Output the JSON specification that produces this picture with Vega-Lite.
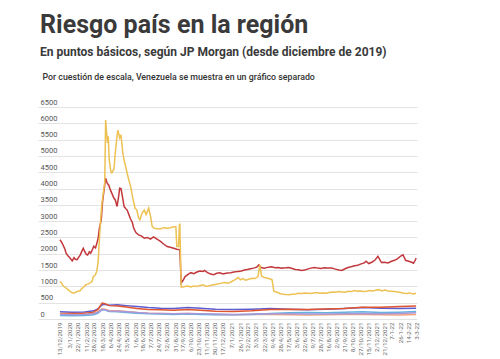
{
  "$schema": "https://vega.github.io/schema/vega-lite/v6.json",
  "width": 379,
  "height": 212,
  "autosize": {"type": "none"},
  "padding": {"left": 38, "top": 107, "right": 83, "bottom": 40},
  "background": "white",
  "title": {
    "text": "Riesgo país en la región",
    "subtitle": "En puntos básicos, según JP Morgan (desde diciembre de 2019)",
    "anchor": "start", "frame": "group", "dx": 2, "offset": 14,
    "font": "Roboto", "fontSize": 25, "fontWeight": "bold", "color": "#3a3a3a",
    "subtitleFont": "Roboto", "subtitleFontSize": 12, "subtitleFontWeight": "bold", "subtitleColor": "#3a3a3a", "subtitlePadding": 9
  },
  "config": {"font": "Roboto", "view": {"stroke": null}},
  "datasets": {
    "s": [
      {"d":"2019-12-13","p":"Argentina","v":2430},{"d":"2019-12-17","p":"Argentina","v":2350},{"d":"2019-12-20","p":"Argentina","v":2270},{"d":"2019-12-24","p":"Argentina","v":2150},{"d":"2019-12-27","p":"Argentina","v":2020},{"d":"2019-12-31","p":"Argentina","v":1940},{"d":"2020-01-03","p":"Argentina","v":1900},{"d":"2020-01-07","p":"Argentina","v":1830},{"d":"2020-01-10","p":"Argentina","v":1780},{"d":"2020-01-14","p":"Argentina","v":1880},{"d":"2020-01-17","p":"Argentina","v":1830},{"d":"2020-01-21","p":"Argentina","v":1820},{"d":"2020-01-24","p":"Argentina","v":1880},{"d":"2020-01-28","p":"Argentina","v":1960},{"d":"2020-01-31","p":"Argentina","v":2050},{"d":"2020-02-04","p":"Argentina","v":2170},{"d":"2020-02-07","p":"Argentina","v":2080},{"d":"2020-02-11","p":"Argentina","v":1980},{"d":"2020-02-14","p":"Argentina","v":1960},{"d":"2020-02-18","p":"Argentina","v":2060},{"d":"2020-02-21","p":"Argentina","v":2020},{"d":"2020-02-25","p":"Argentina","v":2130},{"d":"2020-02-28","p":"Argentina","v":2230},{"d":"2020-03-03","p":"Argentina","v":2180},{"d":"2020-03-06","p":"Argentina","v":2320},{"d":"2020-03-09","p":"Argentina","v":2480},{"d":"2020-03-12","p":"Argentina","v":2800},{"d":"2020-03-16","p":"Argentina","v":3040},{"d":"2020-03-19","p":"Argentina","v":3600},{"d":"2020-03-23","p":"Argentina","v":4010},{"d":"2020-03-26","p":"Argentina","v":4320},{"d":"2020-03-30","p":"Argentina","v":4150},{"d":"2020-04-02","p":"Argentina","v":4110},{"d":"2020-04-06","p":"Argentina","v":3950},{"d":"2020-04-09","p":"Argentina","v":3860},{"d":"2020-04-14","p":"Argentina","v":3700},{"d":"2020-04-17","p":"Argentina","v":3650},{"d":"2020-04-21","p":"Argentina","v":3450},{"d":"2020-04-24","p":"Argentina","v":3700},{"d":"2020-04-27","p":"Argentina","v":4010},{"d":"2020-04-30","p":"Argentina","v":4000},{"d":"2020-05-04","p":"Argentina","v":3700},{"d":"2020-05-07","p":"Argentina","v":3450},{"d":"2020-05-11","p":"Argentina","v":3380},{"d":"2020-05-14","p":"Argentina","v":3340},{"d":"2020-05-18","p":"Argentina","v":3200},{"d":"2020-05-21","p":"Argentina","v":3090},{"d":"2020-05-26","p":"Argentina","v":2950},{"d":"2020-05-29","p":"Argentina","v":2780},{"d":"2020-06-03","p":"Argentina","v":2650},{"d":"2020-06-09","p":"Argentina","v":2580},{"d":"2020-06-15","p":"Argentina","v":2550},{"d":"2020-06-22","p":"Argentina","v":2480},{"d":"2020-06-29","p":"Argentina","v":2500},{"d":"2020-07-06","p":"Argentina","v":2450},{"d":"2020-07-13","p":"Argentina","v":2520},{"d":"2020-07-20","p":"Argentina","v":2460},{"d":"2020-07-29","p":"Argentina","v":2380},{"d":"2020-08-05","p":"Argentina","v":2300},{"d":"2020-08-13","p":"Argentina","v":2220},{"d":"2020-08-20","p":"Argentina","v":2200},{"d":"2020-08-28","p":"Argentina","v":2170},{"d":"2020-09-04","p":"Argentina","v":2140},{"d":"2020-09-11","p":"Argentina","v":2120},{"d":"2020-09-14","p":"Argentina","v":1100},{"d":"2020-09-18","p":"Argentina","v":1180},{"d":"2020-09-23","p":"Argentina","v":1300},{"d":"2020-09-29","p":"Argentina","v":1360},{"d":"2020-10-06","p":"Argentina","v":1420},{"d":"2020-10-13","p":"Argentina","v":1390},{"d":"2020-10-20","p":"Argentina","v":1440},{"d":"2020-10-27","p":"Argentina","v":1470},{"d":"2020-11-03","p":"Argentina","v":1460},{"d":"2020-11-06","p":"Argentina","v":1490},{"d":"2020-11-13","p":"Argentina","v":1420},{"d":"2020-11-20","p":"Argentina","v":1380},{"d":"2020-11-27","p":"Argentina","v":1360},{"d":"2020-12-04","p":"Argentina","v":1400},{"d":"2020-12-11","p":"Argentina","v":1420},{"d":"2020-12-18","p":"Argentina","v":1380},{"d":"2020-12-28","p":"Argentina","v":1410},{"d":"2021-01-05","p":"Argentina","v":1420},{"d":"2021-01-12","p":"Argentina","v":1440},{"d":"2021-01-22","p":"Argentina","v":1460},{"d":"2021-01-29","p":"Argentina","v":1470},{"d":"2021-02-05","p":"Argentina","v":1500},{"d":"2021-02-12","p":"Argentina","v":1520},{"d":"2021-02-19","p":"Argentina","v":1540},{"d":"2021-02-26","p":"Argentina","v":1560},{"d":"2021-03-05","p":"Argentina","v":1590},{"d":"2021-03-10","p":"Argentina","v":1660},{"d":"2021-03-15","p":"Argentina","v":1580},{"d":"2021-03-22","p":"Argentina","v":1560},{"d":"2021-04-01","p":"Argentina","v":1590},{"d":"2021-04-08","p":"Argentina","v":1600},{"d":"2021-04-16","p":"Argentina","v":1570},{"d":"2021-04-23","p":"Argentina","v":1580},{"d":"2021-04-30","p":"Argentina","v":1560},{"d":"2021-05-10","p":"Argentina","v":1570},{"d":"2021-05-17","p":"Argentina","v":1580},{"d":"2021-05-25","p":"Argentina","v":1550},{"d":"2021-06-01","p":"Argentina","v":1520},{"d":"2021-06-08","p":"Argentina","v":1510},{"d":"2021-06-15","p":"Argentina","v":1490},{"d":"2021-06-22","p":"Argentina","v":1500},{"d":"2021-06-29","p":"Argentina","v":1530},{"d":"2021-07-06","p":"Argentina","v":1560},{"d":"2021-07-15","p":"Argentina","v":1580},{"d":"2021-07-22","p":"Argentina","v":1560},{"d":"2021-07-29","p":"Argentina","v":1550},{"d":"2021-08-06","p":"Argentina","v":1570},{"d":"2021-08-13","p":"Argentina","v":1560},{"d":"2021-08-23","p":"Argentina","v":1560},{"d":"2021-08-31","p":"Argentina","v":1530},{"d":"2021-09-08","p":"Argentina","v":1500},{"d":"2021-09-15","p":"Argentina","v":1490},{"d":"2021-09-22","p":"Argentina","v":1540},{"d":"2021-09-29","p":"Argentina","v":1580},{"d":"2021-10-06","p":"Argentina","v":1600},{"d":"2021-10-14","p":"Argentina","v":1630},{"d":"2021-10-21","p":"Argentina","v":1650},{"d":"2021-10-29","p":"Argentina","v":1690},{"d":"2021-11-05","p":"Argentina","v":1720},{"d":"2021-11-09","p":"Argentina","v":1770},{"d":"2021-11-15","p":"Argentina","v":1700},{"d":"2021-11-22","p":"Argentina","v":1740},{"d":"2021-11-29","p":"Argentina","v":1800},{"d":"2021-12-06","p":"Argentina","v":1920},{"d":"2021-12-09","p":"Argentina","v":1850},{"d":"2021-12-14","p":"Argentina","v":1730},{"d":"2021-12-21","p":"Argentina","v":1740},{"d":"2021-12-29","p":"Argentina","v":1720},{"d":"2022-01-06","p":"Argentina","v":1770},{"d":"2022-01-13","p":"Argentina","v":1800},{"d":"2022-01-20","p":"Argentina","v":1850},{"d":"2022-01-27","p":"Argentina","v":1930},{"d":"2022-02-01","p":"Argentina","v":1970},{"d":"2022-02-07","p":"Argentina","v":1800},{"d":"2022-02-14","p":"Argentina","v":1770},{"d":"2022-02-21","p":"Argentina","v":1740},{"d":"2022-02-25","p":"Argentina","v":1710},{"d":"2022-03-01","p":"Argentina","v":1800},{"d":"2022-03-03","p":"Argentina","v":1870},
      {"d":"2019-12-13","p":"Ecuador","v":1150},{"d":"2019-12-17","p":"Ecuador","v":1100},{"d":"2019-12-20","p":"Ecuador","v":1020},{"d":"2019-12-27","p":"Ecuador","v":950},{"d":"2020-01-03","p":"Ecuador","v":870},{"d":"2020-01-08","p":"Ecuador","v":820},{"d":"2020-01-13","p":"Ecuador","v":790},{"d":"2020-01-17","p":"Ecuador","v":810},{"d":"2020-01-22","p":"Ecuador","v":850},{"d":"2020-01-27","p":"Ecuador","v":860},{"d":"2020-01-31","p":"Ecuador","v":920},{"d":"2020-02-05","p":"Ecuador","v":980},{"d":"2020-02-10","p":"Ecuador","v":1050},{"d":"2020-02-14","p":"Ecuador","v":1070},{"d":"2020-02-19","p":"Ecuador","v":1100},{"d":"2020-02-24","p":"Ecuador","v":1150},{"d":"2020-02-27","p":"Ecuador","v":1300},{"d":"2020-03-03","p":"Ecuador","v":1360},{"d":"2020-03-06","p":"Ecuador","v":1480},{"d":"2020-03-09","p":"Ecuador","v":1760},{"d":"2020-03-12","p":"Ecuador","v":2500},{"d":"2020-03-16","p":"Ecuador","v":3300},{"d":"2020-03-18","p":"Ecuador","v":3600},{"d":"2020-03-20","p":"Ecuador","v":3800},{"d":"2020-03-24","p":"Ecuador","v":4200},{"d":"2020-03-26","p":"Ecuador","v":6100},{"d":"2020-03-30","p":"Ecuador","v":5400},{"d":"2020-04-01","p":"Ecuador","v":5600},{"d":"2020-04-03","p":"Ecuador","v":4900},{"d":"2020-04-07","p":"Ecuador","v":4520},{"d":"2020-04-09","p":"Ecuador","v":4480},{"d":"2020-04-14","p":"Ecuador","v":4600},{"d":"2020-04-17","p":"Ecuador","v":5100},{"d":"2020-04-21","p":"Ecuador","v":5600},{"d":"2020-04-23","p":"Ecuador","v":5790},{"d":"2020-04-27","p":"Ecuador","v":5550},{"d":"2020-04-30","p":"Ecuador","v":5650},{"d":"2020-05-04","p":"Ecuador","v":5100},{"d":"2020-05-07","p":"Ecuador","v":4870},{"d":"2020-05-12","p":"Ecuador","v":4600},{"d":"2020-05-14","p":"Ecuador","v":4470},{"d":"2020-05-19","p":"Ecuador","v":4200},{"d":"2020-05-22","p":"Ecuador","v":4060},{"d":"2020-05-27","p":"Ecuador","v":3700},{"d":"2020-06-01","p":"Ecuador","v":3400},{"d":"2020-06-05","p":"Ecuador","v":3340},{"d":"2020-06-09","p":"Ecuador","v":3100},{"d":"2020-06-12","p":"Ecuador","v":3040},{"d":"2020-06-17","p":"Ecuador","v":3250},{"d":"2020-06-22","p":"Ecuador","v":3340},{"d":"2020-06-26","p":"Ecuador","v":3200},{"d":"2020-07-02","p":"Ecuador","v":3400},{"d":"2020-07-07","p":"Ecuador","v":3100},{"d":"2020-07-10","p":"Ecuador","v":2830},{"d":"2020-07-15","p":"Ecuador","v":2780},{"d":"2020-07-22","p":"Ecuador","v":2770},{"d":"2020-07-29","p":"Ecuador","v":2760},{"d":"2020-08-05","p":"Ecuador","v":2800},{"d":"2020-08-13","p":"Ecuador","v":2780},{"d":"2020-08-20","p":"Ecuador","v":2800},{"d":"2020-08-28","p":"Ecuador","v":2830},{"d":"2020-09-02","p":"Ecuador","v":2830},{"d":"2020-09-04","p":"Ecuador","v":2220},{"d":"2020-09-08","p":"Ecuador","v":2220},{"d":"2020-09-10","p":"Ecuador","v":2890},{"d":"2020-09-11","p":"Ecuador","v":2900},{"d":"2020-09-14","p":"Ecuador","v":980},{"d":"2020-09-18","p":"Ecuador","v":980},{"d":"2020-09-23","p":"Ecuador","v":1000},{"d":"2020-09-29","p":"Ecuador","v":1010},{"d":"2020-10-06","p":"Ecuador","v":980},{"d":"2020-10-13","p":"Ecuador","v":1010},{"d":"2020-10-20","p":"Ecuador","v":1000},{"d":"2020-10-27","p":"Ecuador","v":1030},{"d":"2020-11-03","p":"Ecuador","v":1050},{"d":"2020-11-10","p":"Ecuador","v":1000},{"d":"2020-11-17","p":"Ecuador","v":1020},{"d":"2020-11-24","p":"Ecuador","v":1040},{"d":"2020-12-01","p":"Ecuador","v":1060},{"d":"2020-12-08","p":"Ecuador","v":1080},{"d":"2020-12-15","p":"Ecuador","v":1100},{"d":"2020-12-22","p":"Ecuador","v":1120},{"d":"2020-12-30","p":"Ecuador","v":1100},{"d":"2021-01-07","p":"Ecuador","v":1150},{"d":"2021-01-14","p":"Ecuador","v":1200},{"d":"2021-01-22","p":"Ecuador","v":1270},{"d":"2021-01-27","p":"Ecuador","v":1200},{"d":"2021-02-01","p":"Ecuador","v":1240},{"d":"2021-02-08","p":"Ecuador","v":1190},{"d":"2021-02-15","p":"Ecuador","v":1220},{"d":"2021-02-22","p":"Ecuador","v":1250},{"d":"2021-03-01","p":"Ecuador","v":1240},{"d":"2021-03-08","p":"Ecuador","v":1300},{"d":"2021-03-12","p":"Ecuador","v":1660},{"d":"2021-03-16","p":"Ecuador","v":1320},{"d":"2021-03-23","p":"Ecuador","v":1270},{"d":"2021-03-30","p":"Ecuador","v":1250},{"d":"2021-04-06","p":"Ecuador","v":1220},{"d":"2021-04-09","p":"Ecuador","v":1200},{"d":"2021-04-13","p":"Ecuador","v":850},{"d":"2021-04-20","p":"Ecuador","v":820},{"d":"2021-04-27","p":"Ecuador","v":780},{"d":"2021-05-04","p":"Ecuador","v":760},{"d":"2021-05-11","p":"Ecuador","v":750},{"d":"2021-05-18","p":"Ecuador","v":745},{"d":"2021-05-25","p":"Ecuador","v":760},{"d":"2021-06-01","p":"Ecuador","v":770},{"d":"2021-06-08","p":"Ecuador","v":790},{"d":"2021-06-15","p":"Ecuador","v":780},{"d":"2021-06-22","p":"Ecuador","v":800},{"d":"2021-06-29","p":"Ecuador","v":790},{"d":"2021-07-06","p":"Ecuador","v":780},{"d":"2021-07-13","p":"Ecuador","v":800},{"d":"2021-07-20","p":"Ecuador","v":810},{"d":"2021-07-27","p":"Ecuador","v":790},{"d":"2021-08-03","p":"Ecuador","v":800},{"d":"2021-08-10","p":"Ecuador","v":790},{"d":"2021-08-17","p":"Ecuador","v":810},{"d":"2021-08-24","p":"Ecuador","v":830},{"d":"2021-08-31","p":"Ecuador","v":820},{"d":"2021-09-08","p":"Ecuador","v":840},{"d":"2021-09-15","p":"Ecuador","v":830},{"d":"2021-09-22","p":"Ecuador","v":820},{"d":"2021-09-29","p":"Ecuador","v":850},{"d":"2021-10-06","p":"Ecuador","v":840},{"d":"2021-10-13","p":"Ecuador","v":870},{"d":"2021-10-20","p":"Ecuador","v":850},{"d":"2021-10-27","p":"Ecuador","v":860},{"d":"2021-11-03","p":"Ecuador","v":840},{"d":"2021-11-10","p":"Ecuador","v":850},{"d":"2021-11-17","p":"Ecuador","v":870},{"d":"2021-11-24","p":"Ecuador","v":860},{"d":"2021-12-01","p":"Ecuador","v":880},{"d":"2021-12-09","p":"Ecuador","v":900},{"d":"2021-12-15","p":"Ecuador","v":860},{"d":"2021-12-22","p":"Ecuador","v":890},{"d":"2021-12-29","p":"Ecuador","v":860},{"d":"2022-01-06","p":"Ecuador","v":850},{"d":"2022-01-13","p":"Ecuador","v":840},{"d":"2022-01-20","p":"Ecuador","v":830},{"d":"2022-01-27","p":"Ecuador","v":810},{"d":"2022-02-03","p":"Ecuador","v":790},{"d":"2022-02-10","p":"Ecuador","v":780},{"d":"2022-02-17","p":"Ecuador","v":800},{"d":"2022-02-24","p":"Ecuador","v":770},{"d":"2022-03-03","p":"Ecuador","v":790},
      {"d":"2019-12-13","p":"Brasil","v":220},{"d":"2020-01-10","p":"Brasil","v":210},{"d":"2020-02-07","p":"Brasil","v":215},{"d":"2020-02-28","p":"Brasil","v":250},{"d":"2020-03-09","p":"Brasil","v":320},{"d":"2020-03-18","p":"Brasil","v":440},{"d":"2020-03-24","p":"Brasil","v":450},{"d":"2020-04-03","p":"Brasil","v":420},{"d":"2020-04-22","p":"Brasil","v":440},{"d":"2020-05-12","p":"Brasil","v":410},{"d":"2020-06-05","p":"Brasil","v":380},{"d":"2020-07-01","p":"Brasil","v":350},{"d":"2020-07-29","p":"Brasil","v":330},{"d":"2020-08-28","p":"Brasil","v":320},{"d":"2020-09-29","p":"Brasil","v":350},{"d":"2020-10-28","p":"Brasil","v":330},{"d":"2020-12-01","p":"Brasil","v":300},{"d":"2021-01-12","p":"Brasil","v":290},{"d":"2021-02-22","p":"Brasil","v":300},{"d":"2021-04-05","p":"Brasil","v":320},{"d":"2021-05-17","p":"Brasil","v":300},{"d":"2021-06-28","p":"Brasil","v":280},{"d":"2021-08-09","p":"Brasil","v":300},{"d":"2021-09-20","p":"Brasil","v":320},{"d":"2021-11-01","p":"Brasil","v":350},{"d":"2021-12-13","p":"Brasil","v":330},{"d":"2022-01-24","p":"Brasil","v":320},{"d":"2022-03-03","p":"Brasil","v":330},
      {"d":"2019-12-13","p":"Colombia","v":170},{"d":"2020-01-10","p":"Colombia","v":165},{"d":"2020-02-07","p":"Colombia","v":175},{"d":"2020-02-28","p":"Colombia","v":210},{"d":"2020-03-09","p":"Colombia","v":300},{"d":"2020-03-18","p":"Colombia","v":490},{"d":"2020-03-24","p":"Colombia","v":470},{"d":"2020-04-03","p":"Colombia","v":410},{"d":"2020-04-22","p":"Colombia","v":400},{"d":"2020-05-12","p":"Colombia","v":370},{"d":"2020-06-05","p":"Colombia","v":320},{"d":"2020-07-01","p":"Colombia","v":290},{"d":"2020-07-29","p":"Colombia","v":280},{"d":"2020-08-28","p":"Colombia","v":270},{"d":"2020-09-29","p":"Colombia","v":290},{"d":"2020-10-28","p":"Colombia","v":270},{"d":"2020-12-01","p":"Colombia","v":240},{"d":"2021-01-12","p":"Colombia","v":230},{"d":"2021-02-22","p":"Colombia","v":250},{"d":"2021-04-05","p":"Colombia","v":290},{"d":"2021-05-17","p":"Colombia","v":300},{"d":"2021-06-28","p":"Colombia","v":290},{"d":"2021-08-09","p":"Colombia","v":310},{"d":"2021-09-20","p":"Colombia","v":320},{"d":"2021-11-01","p":"Colombia","v":360},{"d":"2021-12-13","p":"Colombia","v":360},{"d":"2022-01-24","p":"Colombia","v":380},{"d":"2022-03-03","p":"Colombia","v":400},
      {"d":"2019-12-13","p":"Uruguay","v":150},{"d":"2020-01-10","p":"Uruguay","v":140},{"d":"2020-02-07","p":"Uruguay","v":145},{"d":"2020-02-28","p":"Uruguay","v":170},{"d":"2020-03-09","p":"Uruguay","v":230},{"d":"2020-03-18","p":"Uruguay","v":310},{"d":"2020-03-24","p":"Uruguay","v":300},{"d":"2020-04-03","p":"Uruguay","v":260},{"d":"2020-04-22","p":"Uruguay","v":250},{"d":"2020-05-12","p":"Uruguay","v":230},{"d":"2020-06-05","p":"Uruguay","v":200},{"d":"2020-07-01","p":"Uruguay","v":180},{"d":"2020-07-29","p":"Uruguay","v":170},{"d":"2020-08-28","p":"Uruguay","v":160},{"d":"2020-09-29","p":"Uruguay","v":170},{"d":"2020-10-28","p":"Uruguay","v":150},{"d":"2020-12-01","p":"Uruguay","v":140},{"d":"2021-01-12","p":"Uruguay","v":130},{"d":"2021-02-22","p":"Uruguay","v":135},{"d":"2021-04-05","p":"Uruguay","v":140},{"d":"2021-05-17","p":"Uruguay","v":130},{"d":"2021-06-28","p":"Uruguay","v":125},{"d":"2021-08-09","p":"Uruguay","v":130},{"d":"2021-09-20","p":"Uruguay","v":135},{"d":"2021-11-01","p":"Uruguay","v":140},{"d":"2021-12-13","p":"Uruguay","v":130},{"d":"2022-01-24","p":"Uruguay","v":125},{"d":"2022-03-03","p":"Uruguay","v":140},
      {"d":"2019-12-13","p":"Perú","v":110},{"d":"2020-01-10","p":"Perú","v":100},{"d":"2020-02-07","p":"Perú","v":105},{"d":"2020-02-28","p":"Perú","v":130},{"d":"2020-03-09","p":"Perú","v":180},{"d":"2020-03-18","p":"Perú","v":290},{"d":"2020-03-24","p":"Perú","v":280},{"d":"2020-04-03","p":"Perú","v":230},{"d":"2020-04-22","p":"Perú","v":220},{"d":"2020-05-12","p":"Perú","v":200},{"d":"2020-06-05","p":"Perú","v":180},{"d":"2020-07-01","p":"Perú","v":160},{"d":"2020-07-29","p":"Perú","v":150},{"d":"2020-08-28","p":"Perú","v":140},{"d":"2020-09-29","p":"Perú","v":150},{"d":"2020-10-28","p":"Perú","v":140},{"d":"2020-12-01","p":"Perú","v":130},{"d":"2021-01-12","p":"Perú","v":130},{"d":"2021-02-22","p":"Perú","v":140},{"d":"2021-04-05","p":"Perú","v":170},{"d":"2021-05-17","p":"Perú","v":190},{"d":"2021-06-28","p":"Perú","v":200},{"d":"2021-08-09","p":"Perú","v":190},{"d":"2021-09-20","p":"Perú","v":210},{"d":"2021-11-01","p":"Perú","v":220},{"d":"2021-12-13","p":"Perú","v":200},{"d":"2022-01-24","p":"Perú","v":210},{"d":"2022-03-03","p":"Perú","v":230},
      {"d":"2019-12-13","p":"Chile","v":135},{"d":"2020-01-10","p":"Chile","v":130},{"d":"2020-02-07","p":"Chile","v":135},{"d":"2020-02-28","p":"Chile","v":160},{"d":"2020-03-09","p":"Chile","v":210},{"d":"2020-03-18","p":"Chile","v":290},{"d":"2020-03-24","p":"Chile","v":280},{"d":"2020-04-03","p":"Chile","v":240},{"d":"2020-04-22","p":"Chile","v":240},{"d":"2020-05-12","p":"Chile","v":220},{"d":"2020-06-05","p":"Chile","v":200},{"d":"2020-07-01","p":"Chile","v":180},{"d":"2020-07-29","p":"Chile","v":170},{"d":"2020-08-28","p":"Chile","v":160},{"d":"2020-09-29","p":"Chile","v":170},{"d":"2020-10-28","p":"Chile","v":160},{"d":"2020-12-01","p":"Chile","v":150},{"d":"2021-01-12","p":"Chile","v":140},{"d":"2021-02-22","p":"Chile","v":150},{"d":"2021-04-05","p":"Chile","v":160},{"d":"2021-05-17","p":"Chile","v":160},{"d":"2021-06-28","p":"Chile","v":150},{"d":"2021-08-09","p":"Chile","v":150},{"d":"2021-09-20","p":"Chile","v":160},{"d":"2021-11-01","p":"Chile","v":170},{"d":"2021-12-13","p":"Chile","v":160},{"d":"2022-01-24","p":"Chile","v":170},{"d":"2022-03-03","p":"Chile","v":190}
    ]
  },
  "data": {"name": "s"},
  "mark": {"type": "line", "strokeWidth": 1.5, "interpolate": "linear"},
  "encoding": {
    "x": {
      "field": "d", "type": "temporal",
      "scale": {"type": "utc", "domain": [{"year": 2019, "month": 10, "date": 24, "utc": true}, {"year": 2022, "month": 3, "date": 5, "utc": true}]},
      "axis": {
        "title": null, "grid": false, "domain": false, "ticks": false, "tickSize": 0,
        "labelAngle": -90, "labelAlign": "right", "labelBaseline": "middle", "labelPadding": 3,
        "labelFontSize": 6.2, "labelColor": "#666666", "labelFont": "Roboto", "labelOverlap": false,
        "values": [
          {"year":2019,"month":12,"date":13,"utc":true},{"year":2020,"month":1,"date":3,"utc":true},{"year":2020,"month":1,"date":22,"utc":true},{"year":2020,"month":2,"date":11,"utc":true},{"year":2020,"month":2,"date":28,"utc":true},{"year":2020,"month":3,"date":18,"utc":true},{"year":2020,"month":4,"date":6,"utc":true},{"year":2020,"month":4,"date":24,"utc":true},{"year":2020,"month":5,"date":13,"utc":true},{"year":2020,"month":6,"date":1,"utc":true},{"year":2020,"month":6,"date":18,"utc":true},{"year":2020,"month":7,"date":7,"utc":true},{"year":2020,"month":7,"date":24,"utc":true},{"year":2020,"month":8,"date":12,"utc":true},{"year":2020,"month":8,"date":31,"utc":true},{"year":2020,"month":9,"date":17,"utc":true},{"year":2020,"month":10,"date":6,"utc":true},{"year":2020,"month":10,"date":23,"utc":true},{"year":2020,"month":11,"date":11,"utc":true},{"year":2020,"month":11,"date":30,"utc":true},{"year":2020,"month":12,"date":17,"utc":true},{"year":2021,"month":1,"date":7,"utc":true},{"year":2021,"month":1,"date":26,"utc":true},{"year":2021,"month":2,"date":12,"utc":true},{"year":2021,"month":3,"date":3,"utc":true},{"year":2021,"month":3,"date":22,"utc":true},{"year":2021,"month":4,"date":9,"utc":true},{"year":2021,"month":4,"date":28,"utc":true},{"year":2021,"month":5,"date":17,"utc":true},{"year":2021,"month":6,"date":3,"utc":true},{"year":2021,"month":6,"date":22,"utc":true},{"year":2021,"month":7,"date":9,"utc":true},{"year":2021,"month":7,"date":28,"utc":true},{"year":2021,"month":8,"date":16,"utc":true},{"year":2021,"month":9,"date":2,"utc":true},{"year":2021,"month":9,"date":21,"utc":true},{"year":2021,"month":10,"date":8,"utc":true},{"year":2021,"month":10,"date":27,"utc":true},{"year":2021,"month":11,"date":15,"utc":true},{"year":2021,"month":12,"date":2,"utc":true},{"year":2021,"month":12,"date":21,"utc":true},{"year":2022,"month":1,"date":7,"utc":true},{"year":2022,"month":1,"date":26,"utc":true},{"year":2022,"month":2,"date":14,"utc":true},{"year":2022,"month":3,"date":3,"utc":true}
        ],
        "labelExpr": "utcFormat(datum.value, '%Y') == '2022' ? utcFormat(datum.value, '%-d-%-m-%y') : utcFormat(datum.value, '%-d/%-m/%Y')"
      }
    },
    "y": {
      "field": "v", "type": "quantitative",
      "scale": {"domain": [0, 6500], "nice": false},
      "axis": {
        "title": "Por cuestión de escala, Venezuela se muestra en un gráfico separado",
        "titleAngle": 0, "titleAlign": "left", "titleBaseline": "alphabetic", "titleX": 4, "titleY": -28,
        "titleFont": "Roboto", "titleFontSize": 8.8, "titleFontWeight": 500, "titleColor": "#333333",
        "values": [0,500,1000,1500,2000,2500,3000,3500,4000,4500,5000,5500,6000,6500],
        "format": "d",
        "domain": false, "ticks": false, "tickSize": 0,
        "labelAlign": "left", "labelBaseline": "bottom", "labelPadding": -2, "labelOffset": -1,
        "labelFontSize": 7.5, "labelColor": "#555555", "labelFont": "Roboto",
        "gridColor": "#e3e3e3", "gridWidth": 1
      }
    },
    "color": {
      "field": "p", "type": "nominal", "legend": null,
      "scale": {
        "domain": ["Chile","Perú","Uruguay","Colombia","Brasil","Ecuador","Argentina"],
        "range": ["#a898d8","#64b2e0","#f2a27c","#e0552f","#5d5bcf","#edc153","#c2383d"]
      }
    },
    "order": {"value": 0}
  }
}
